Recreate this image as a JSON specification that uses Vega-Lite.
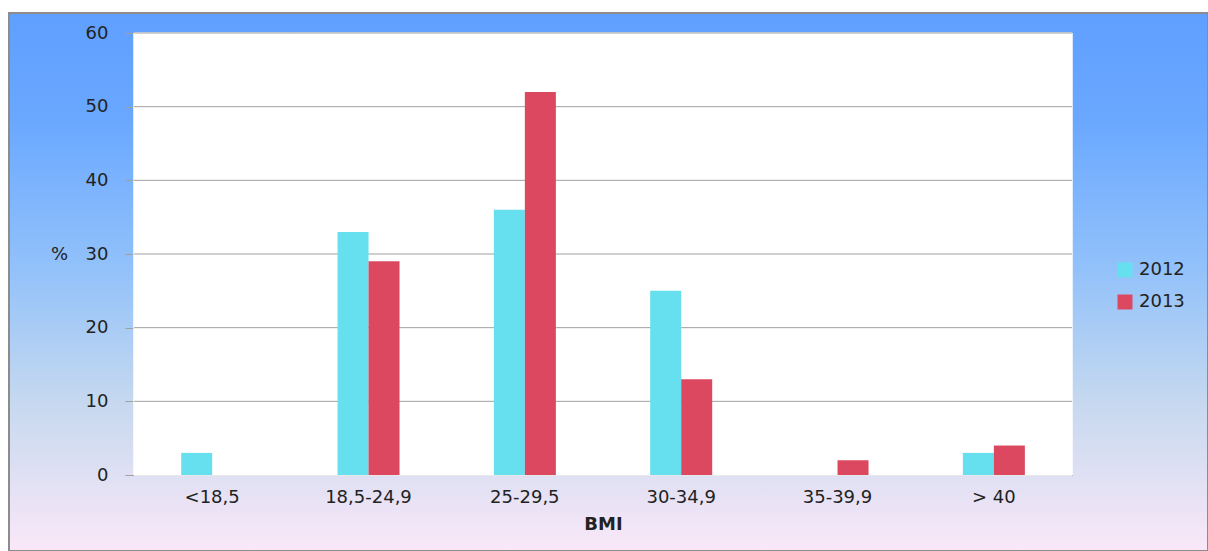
{
  "$schema": "https://vega.github.io/schema/vega-lite/v6.json",
  "width": 1199,
  "height": 538,
  "autosize": "none",
  "padding": {"left": 9, "top": 13, "right": 0, "bottom": 0},
  "background": "white",
  "config": {
    "view": {
      "fill": {
        "gradient": "linear",
        "x1": 0, "y1": 0, "x2": 0, "y2": 1,
        "stops": [
          {"offset": 0, "color": "#5f9fff"},
          {"offset": 0.2, "color": "#6aa8ff"},
          {"offset": 0.48, "color": "#93c2fa"},
          {"offset": 0.72, "color": "#c5d8ef"},
          {"offset": 1, "color": "#fae8f8"}
        ]
      },
      "stroke": "#8c8c8c",
      "strokeWidth": 2
    },
    "font": "DejaVu Sans",
    "axis": {
      "labelFont": "DejaVu Sans",
      "labelFontSize": 18,
      "labelColor": "#222222",
      "titleFont": "DejaVu Sans",
      "titleFontSize": 18,
      "titleColor": "#222222",
      "domainColor": "#a0a0a0",
      "tickColor": "#a0a0a0",
      "grid": false,
      "zindex": 1
    }
  },
  "datasets": {
    "bmi": [
      {"bmi": "<18,5", "year": "2012", "pct": 3},
      {"bmi": "<18,5", "year": "2013", "pct": 0},
      {"bmi": "18,5-24,9", "year": "2012", "pct": 33},
      {"bmi": "18,5-24,9", "year": "2013", "pct": 29},
      {"bmi": "25-29,5", "year": "2012", "pct": 36},
      {"bmi": "25-29,5", "year": "2013", "pct": 52},
      {"bmi": "30-34,9", "year": "2012", "pct": 25},
      {"bmi": "30-34,9", "year": "2013", "pct": 13},
      {"bmi": "35-39,9", "year": "2012", "pct": 0},
      {"bmi": "35-39,9", "year": "2013", "pct": 2},
      {"bmi": "> 40", "year": "2012", "pct": 3},
      {"bmi": "> 40", "year": "2013", "pct": 4}
    ],
    "gridlines": [
      {"v": 10}, {"v": 20}, {"v": 30}, {"v": 40}, {"v": 50}, {"v": 60}
    ]
  },
  "encoding": {
    "x": {
      "field": "bmi",
      "type": "nominal",
      "sort": ["<18,5", "18,5-24,9", "25-29,5", "30-34,9", "35-39,9", "> 40"],
      "scale": {"range": [125, 1063], "paddingInner": 0, "paddingOuter": 0},
      "axis": {
        "title": "BMI",
        "titleFontWeight": "bold",
        "titlePadding": 9,
        "labelAngle": 0,
        "labelPadding": 13,
        "ticks": false,
        "offset": -76
      }
    }
  },
  "layer": [
    {
      "data": {"name": "bmi"},
      "mark": {"type": "rect", "fill": "white", "stroke": "white", "strokeWidth": 1},
      "encoding": {
        "y": {
          "datum": 0,
          "type": "quantitative",
          "scale": {"domain": [0, 60], "range": [462, 20], "nice": false},
          "axis": {
            "title": "%",
            "titleAngle": 0,
            "titleFontWeight": "normal",
            "titleAlign": "center",
            "titleBaseline": "middle",
            "titleX": -75,
            "values": [0, 10, 20, 30, 40, 50, 60],
            "tickSize": 9,
            "labelPadding": 17,
            "offset": -125
          }
        },
        "y2": {"datum": 60}
      }
    },
    {
      "data": {"name": "gridlines"},
      "mark": {"type": "rule", "color": "#a0a0a0", "strokeWidth": 1},
      "encoding": {
        "x": {"datum": "<18,5", "bandPosition": 0},
        "x2": {"datum": "> 40", "bandPosition": 1},
        "y": {"field": "v", "type": "quantitative"}
      }
    },
    {
      "data": {"name": "bmi"},
      "mark": {"type": "bar"},
      "encoding": {
        "xOffset": {
          "field": "year",
          "type": "nominal",
          "scale": {"range": [47.2, 109.2], "paddingInner": 0, "paddingOuter": 0}
        },
        "y": {"field": "pct", "type": "quantitative"},
        "color": {
          "field": "year",
          "type": "nominal",
          "scale": {"domain": ["2012", "2013"], "range": ["#66e0ee", "#db4860"]},
          "legend": {
            "title": null,
            "orient": "none",
            "legendX": 1107,
            "legendY": 248,
            "symbolType": "square",
            "symbolSize": 225,
            "symbolStrokeWidth": 0,
            "labelFont": "DejaVu Sans",
            "labelFontSize": 18,
            "labelColor": "#222222",
            "labelOffset": 5,
            "rowPadding": 14
          }
        }
      }
    }
  ]
}
